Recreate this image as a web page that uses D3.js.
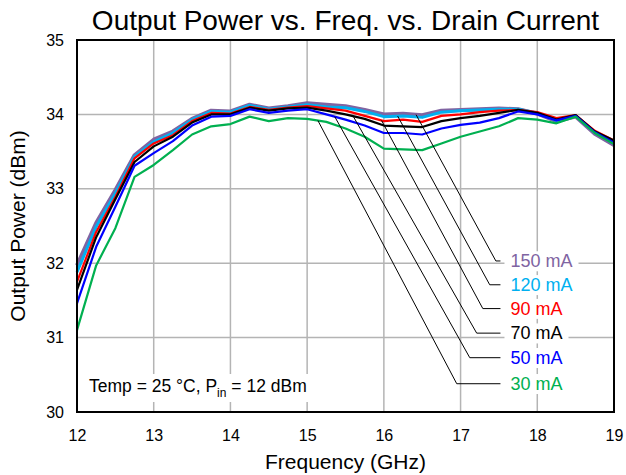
<!DOCTYPE html>
<html>
<head>
<meta charset="utf-8">
<script src="https://cdn.jsdelivr.net/npm/d3@7"></script>
<style>
  body { margin: 0; background: #fff; }
  text { font-family: "Liberation Sans", Arial, sans-serif; }
</style>
</head>
<body>
<div class="chart"></div>
<script>
// Frequency points (GHz)
var freq = [12, 12.25, 12.5, 12.75, 13, 13.25, 13.5, 13.75, 14, 14.25, 14.5, 14.75, 15,
  15.25, 15.5, 15.75, 16, 16.25, 16.5, 16.75, 17, 17.25, 17.5, 17.75, 18, 18.25, 18.5, 18.75, 19];

// Output power (dBm) per drain current
var p150 = [31.97, 32.54, 32.98, 33.45, 33.66, 33.77, 33.94, 34.05, 34.04, 34.13, 34.08, 34.11, 34.15,
  34.13, 34.11, 34.06, 34.00, 34.01, 33.99, 34.05, 34.06, 34.07, 34.08, 34.07, 34.01, 33.91, 33.97, 33.74, 33.59];
var p120 = [31.88, 32.49, 32.94, 33.43, 33.63, 33.75, 33.93, 34.04, 34.03, 34.12, 34.07, 34.10, 34.13,
  34.10, 34.09, 34.04, 33.97, 33.98, 33.96, 34.03, 34.05, 34.06, 34.07, 34.07, 34.02, 33.92, 33.98, 33.76, 33.61];
var p90 = [31.75, 32.42, 32.89, 33.41, 33.61, 33.72, 33.91, 34.02, 34.01, 34.10, 34.06, 34.09, 34.11,
  34.08, 34.05, 33.98, 33.91, 33.93, 33.90, 33.98, 34.00, 34.03, 34.05, 34.06, 34.03, 33.95, 33.99, 33.78, 33.65];
var p70 = [31.64, 32.35, 32.86, 33.36, 33.57, 33.70, 33.89, 34.00, 34.00, 34.09, 34.05, 34.08, 34.09,
  34.05, 34.00, 33.94, 33.85, 33.84, 33.83, 33.91, 33.95, 33.98, 34.02, 34.06, 34.02, 33.93, 33.99, 33.77, 33.65];
var p50 = [31.46, 32.22, 32.76, 33.31, 33.48, 33.64, 33.85, 33.97, 33.98, 34.07, 34.02, 34.05, 34.07,
  34.00, 33.93, 33.85, 33.75, 33.75, 33.73, 33.81, 33.86, 33.89, 33.95, 34.04, 34.00, 33.92, 33.98, 33.76, 33.62];
var p30 = [31.10, 31.97, 32.47, 33.16, 33.32, 33.52, 33.73, 33.84, 33.87, 33.97, 33.91, 33.95, 33.94,
  33.90, 33.81, 33.70, 33.54, 33.53, 33.52, 33.61, 33.70, 33.77, 33.84, 33.95, 33.93, 33.88, 33.97, 33.75, 33.60];

var seriesNames = ["150 mA", "120 mA", "90 mA", "70 mA", "50 mA", "30 mA"];
var seriesValues = [p150, p120, p90, p70, p50, p30];

// Leader-line anchors: frequency on the curve, label row value (dBm), bend frequency
var leaderFreq = [16.42, 16.18, 15.97, 15.6, 15.36, 15.14];
var labelLevel = [32.03, 31.71, 31.39, 31.06, 30.73, 30.38];
var bendFreq = [17.46, 17.38, 17.29, 17.21, 17.12, 16.95];
var labelFreq = 17.52;

var xTicks = [12, 13, 14, 15, 16, 17, 18, 19];
var yTicks = [30, 31, 32, 33, 34, 35];

var colors = ["#8064a2", "#00b0f0", "#ff0000", "#000000", "#0000ff", "#00b050"];
var widths = [4, 3, 2.2, 2.2, 2.2, 2.2];

var svgWidth = 626;
var svgHeight = 475;
var margin = { top: 40, right: 12, bottom: 63, left: 77 };
var chartWidth = svgWidth - margin.left - margin.right;
var chartHeight = svgHeight - margin.top - margin.bottom;

var svg = d3.select(".chart").append("svg")
  .attr("width", svgWidth)
  .attr("height", svgHeight);

var g = svg.append("g")
  .attr("transform", `translate(${margin.left}, ${margin.top})`);

var x = d3.scaleLinear().domain([12, 19]).range([0, chartWidth]);
var y = d3.scaleLinear().domain([30, 35]).range([chartHeight, 0]);

// grid
g.selectAll(".vgrid").data(xTicks).enter().append("line")
  .attr("x1", d => x(d)).attr("x2", d => x(d))
  .attr("y1", 0).attr("y2", chartHeight)
  .attr("stroke", "#b4b4b4").attr("stroke-width", 1.5);
g.selectAll(".hgrid").data(yTicks).enter().append("line")
  .attr("x1", 0).attr("x2", chartWidth)
  .attr("y1", d => y(d)).attr("y2", d => y(d))
  .attr("stroke", "#b4b4b4").attr("stroke-width", 1.5);

// axes (labels only)
var bottomAxis = d3.axisBottom(x).tickValues(xTicks).tickFormat(d3.format("d")).tickSize(0).tickPadding(18);
var leftAxis = d3.axisLeft(y).tickValues(yTicks).tickFormat(d3.format("d")).tickSize(0).tickPadding(13);

var xa = g.append("g").attr("transform", `translate(0, ${chartHeight})`).call(bottomAxis);
var ya = g.append("g").call(leftAxis);
[xa, ya].forEach(function(a) {
  a.select(".domain").remove();
  a.selectAll("text").attr("font-size", 16).attr("fill", "#000")
    .attr("font-family", "Liberation Sans, Arial, sans-serif");
});

// curves
var line = d3.line()
  .x((d, i) => x(freq[i]))
  .y(d => y(d));

seriesValues.forEach(function(vals, k) {
  g.append("path")
    .datum(vals)
    .attr("d", line)
    .attr("fill", "none")
    .attr("stroke", colors[k])
    .attr("stroke-width", widths[k])
    .attr("stroke-linejoin", "round");
});

// interpolate a curve value at frequency f
function valueAt(vals, f) {
  var i = d3.bisectRight(freq, f) - 1;
  i = Math.max(0, Math.min(freq.length - 2, i));
  var t = (f - freq[i]) / (freq[i + 1] - freq[i]);
  return vals[i] + t * (vals[i + 1] - vals[i]);
}

// leader lines
seriesValues.forEach(function(vals, k) {
  var pts = [
    [x(leaderFreq[k]), y(valueAt(vals, leaderFreq[k]))],
    [x(bendFreq[k]), y(labelLevel[k])],
    [x(labelFreq), y(labelLevel[k])]
  ];
  g.append("path")
    .attr("d", d3.line()(pts))
    .attr("fill", "none")
    .attr("stroke", "#000")
    .attr("stroke-width", 1);
});

// labels with white backing
var bgLayer = g.append("g");
var textLayer = g.append("g");

seriesNames.forEach(function(name, k) {
  var t = textLayer.append("text")
    .attr("x", x(labelFreq) + 10)
    .attr("y", y(labelLevel[k]))
    .attr("dy", "0.35em")
    .attr("font-size", 18)
    .attr("fill", colors[k])
    .text(name);
  var bb = t.node().getBBox();
  bgLayer.append("rect")
    .attr("x", bb.x - 6).attr("y", bb.y)
    .attr("width", bb.width + 12).attr("height", bb.height)
    .attr("fill", "#fff");
});

// condition note
var note = textLayer.append("text")
  .attr("x", 12)
  .attr("y", chartHeight - 20)
  .attr("font-size", 17.5)
  .attr("fill", "#000");
note.append("tspan").text("Temp = 25 \u00b0C, P");
note.append("tspan").attr("dy", 5).attr("font-size", 12).text("in");
note.append("tspan").attr("dy", -5).text(" = 12 dBm");
var nb = note.node().getBBox();
bgLayer.append("rect")
  .attr("x", nb.x - 4).attr("y", nb.y - 2)
  .attr("width", nb.width + 8).attr("height", nb.height + 4)
  .attr("fill", "#fff");

// frame
g.append("rect")
  .attr("width", chartWidth).attr("height", chartHeight)
  .attr("fill", "none").attr("stroke", "#000").attr("stroke-width", 2);

// titles
svg.append("text")
  .attr("x", margin.left + chartWidth / 2)
  .attr("y", 30)
  .attr("text-anchor", "middle")
  .attr("font-size", 28)
  .text("Output Power vs. Freq. vs. Drain Current");

svg.append("text")
  .attr("x", margin.left + chartWidth / 2)
  .attr("y", 469)
  .attr("text-anchor", "middle")
  .attr("font-size", 21)
  .text("Frequency (GHz)");

svg.append("text")
  .attr("transform", `translate(25, ${margin.top + chartHeight / 2}) rotate(-90)`)
  .attr("text-anchor", "middle")
  .attr("font-size", 21)
  .text("Output Power (dBm)");
</script>
</body>
</html>
